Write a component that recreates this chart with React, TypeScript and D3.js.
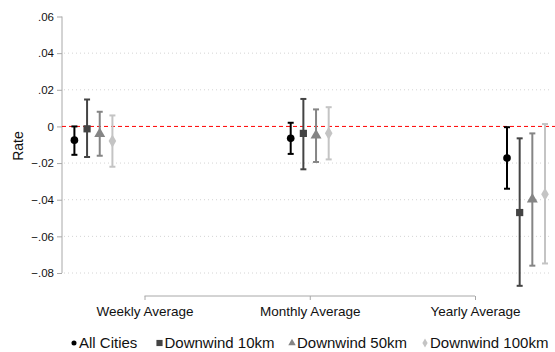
import React, { useEffect, useRef } from 'react';
import * as d3 from 'd3';

const groups = ['Weekly Average', 'Monthly Average', 'Yearly Average'];
const seriesNames = ['All Cities', 'Downwind 10km', 'Downwind 50km', 'Downwind 100km'];
const seriesColors = ['#000000', '#444444', '#858585', '#c4c4c4'];
const seriesSymbols = [d3.symbolCircle, d3.symbolSquare, d3.symbolTriangle, d3.symbolDiamond];

// point estimates per series, one value per group
const estAll = [-0.0075, -0.0065, -0.0173];
const est10 = [-0.0013, -0.0038, -0.047];
const est50 = [-0.004, -0.0049, -0.0398];
const est100 = [-0.008, -0.0037, -0.037];

// confidence interval bounds
const loAll = [-0.0155, -0.015, -0.034];
const hiAll = [0.0, 0.002, -0.0004];
const lo10 = [-0.0167, -0.0234, -0.087];
const hi10 = [0.0147, 0.015, -0.0065];
const lo50 = [-0.016, -0.0194, -0.076];
const hi50 = [0.008, 0.0093, -0.0038];
const lo100 = [-0.022, -0.018, -0.0748];
const hi100 = [0.006, 0.0105, 0.0013];

const yTicks = [0.06, 0.04, 0.02, 0, -0.02, -0.04, -0.06, -0.08];

const fmt = (v: number) => {
  if (v === 0) return '0';
  const s = d3.format('.2f')(v);
  return s.replace('0.', '.');
};

const App: React.FC = () => {
  const ref = useRef<SVGSVGElement | null>(null);

  useEffect(() => {
    if (!ref.current) return;
    const svg = d3.select(ref.current);
    svg.selectAll('*').remove();

    const W = 555;
    const font = '"Liberation Sans", Arial, Helvetica, sans-serif';

    const y = d3.scaleLinear().domain([-0.08, 0.06]).range([273, 16.5]);
    const xPts = d3.scalePoint<string>().domain(groups).range([93.4, 526]);
    const xAxis = d3.scalePoint<string>().domain(groups).range([144.5, 475]);
    const xOff = d3.scalePoint<string>().domain(seriesNames).range([-19, 19]);

    const left = 62;
    const right = 551;

    // dotted gridlines (not at the zero line)
    svg.append('g')
      .selectAll('line')
      .data(yTicks.filter(t => t !== 0 && t !== 0.06))
      .join('line')
      .attr('x1', left + 2)
      .attr('x2', right)
      .attr('y1', d => y(d))
      .attr('y2', d => y(d))
      .attr('stroke', '#d4d4d4')
      .attr('stroke-width', 1)
      .attr('stroke-dasharray', '1,3');

    // y axis
    const yAxis = svg.append('g')
      .attr('transform', `translate(${left},0)`)
      .call(d3.axisLeft(y).tickValues(yTicks).tickFormat(d => fmt(d as number)).tickSize(5).tickPadding(3));
    yAxis.select('.domain').attr('stroke', '#a8a8a8').attr('d', `M0,${y(0.06)}V${y(-0.08)}`);
    yAxis.selectAll('.tick line').attr('stroke', '#a8a8a8');
    yAxis.selectAll('.tick text')
      .attr('font-family', font)
      .attr('font-size', 11.5)
      .attr('fill', '#111');

    svg.append('text')
      .attr('transform', `translate(23,146) rotate(-90)`)
      .attr('text-anchor', 'middle')
      .attr('font-family', font)
      .attr('font-size', 14)
      .attr('fill', '#111')
      .text('Rate');

    // zero line
    svg.append('line')
      .attr('x1', left)
      .attr('x2', W)
      .attr('y1', y(0))
      .attr('y2', y(0))
      .attr('stroke', '#ff0000')
      .attr('stroke-width', 1)
      .attr('stroke-dasharray', '4,3');

    // x axis
    const xg = svg.append('g')
      .attr('transform', `translate(0,296)`)
      .call(d3.axisBottom(xAxis).tickSize(4).tickPadding(6));
    xg.select('.domain').attr('stroke', '#a8a8a8').attr('d', `M${xAxis(groups[0])},0H${xAxis(groups[2])}`);
    xg.selectAll('.tick line').attr('stroke', '#a8a8a8');
    xg.selectAll('.tick text')
      .attr('font-family', font)
      .attr('font-size', 13.5)
      .attr('fill', '#111');

    const series = [
      { est: estAll, lo: loAll, hi: hiAll },
      { est: est10, lo: lo10, hi: hi10 },
      { est: est50, lo: lo50, hi: hi50 },
      { est: est100, lo: lo100, hi: hi100 },
    ];
    const symbolSizes = [46, 52, 52, 50];

    series.forEach((s, si) => {
      const name = seriesNames[si];
      const color = seriesColors[si];
      const rows = groups.map((g, gi) => ({
        x: (xPts(g) as number) + (xOff(name) as number),
        est: s.est[gi],
        lo: s.lo[gi],
        hi: s.hi[gi],
      }));
      const g = svg.append('g');
      g.selectAll('line.bar')
        .data(rows)
        .join('line')
        .attr('x1', d => d.x).attr('x2', d => d.x)
        .attr('y1', d => y(d.lo)).attr('y2', d => y(d.hi))
        .attr('stroke', color).attr('stroke-width', 2);
      g.selectAll('line.caphi')
        .data(rows)
        .join('line')
        .attr('x1', d => d.x - 3).attr('x2', d => d.x + 3)
        .attr('y1', d => y(d.hi)).attr('y2', d => y(d.hi))
        .attr('stroke', color).attr('stroke-width', 2);
      g.selectAll('line.caplo')
        .data(rows)
        .join('line')
        .attr('x1', d => d.x - 3).attr('x2', d => d.x + 3)
        .attr('y1', d => y(d.lo)).attr('y2', d => y(d.lo))
        .attr('stroke', color).attr('stroke-width', 2);
      g.selectAll('path')
        .data(rows)
        .join('path')
        .attr('transform', d => `translate(${d.x},${y(d.est)})`)
        .attr('d', d3.symbol(seriesSymbols[si], symbolSizes[si])())
        .attr('fill', color);
    });

    // legend
    const legendX = [74, 159.5, 292, 425];
    const legendSizes = [20, 38, 24, 24];
    const lg = svg.append('g').attr('transform', 'translate(0,343)');
    seriesNames.forEach((name, i) => {
      lg.append('path')
        .attr('transform', `translate(${legendX[i]},0)`)
        .attr('d', d3.symbol(seriesSymbols[i], legendSizes[i])())
        .attr('fill', seriesColors[i]);
      lg.append('text')
        .attr('x', legendX[i] + 5)
        .attr('y', 5)
        .attr('font-family', font)
        .attr('font-size', 15)
        .attr('fill', '#111')
        .text(name);
    });
  }, []);

  return (
    <svg
      ref={ref}
      width={555}
      height={352}
      style={{ position: 'absolute', left: 0, top: 0, background: '#fff' }}
    />
  );
};

export default App;
